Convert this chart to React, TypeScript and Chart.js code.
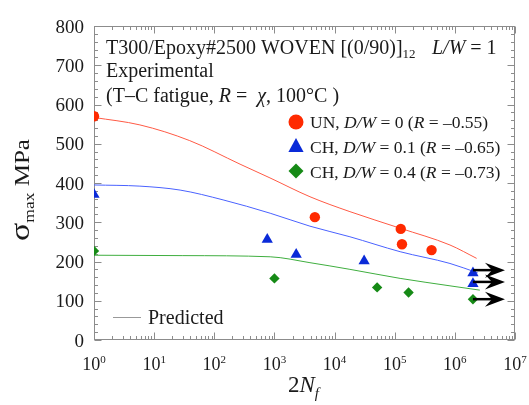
import React, { useEffect, useRef } from 'react';
import { Chart, registerables } from 'chart.js';
Chart.register(...registerables);

const SERIF = '"Liberation Serif", "Times New Roman", serif';

// Experimental data: 2N_f and sigma_max (MPa)
const unN = [1, 4700, 126000, 132000, 410000];
const unS = [570, 313, 283, 244, 229];
const ch1N = [1, 760, 2300, 31000, 2000000, 2000000];
const ch1S = [371, 256, 218, 201, 171, 143];
const ch4N = [1, 1000, 51000, 170000, 2000000];
const ch4S = [227, 157, 134, 121, 104];
// Run-outs (arrows)
const runN = [2000000, 2000000, 2000000];
const runS = [178, 148, 104];
// Predicted curves
const unPredN = [1, 5.8, 39, 268, 843, 3900, 18000, 122000, 830000, 2300000];
const unPredS = [567, 548, 508, 448, 413, 365, 327, 285, 242, 208];
const ch1PredN = [1, 5.8, 27, 140, 850, 3900, 18000, 123000, 830000, 2400000];
const ch1PredS = [395, 392, 382, 357, 323, 290, 263, 225, 195, 171];
const ch4PredN = [1, 30, 850, 3900, 18000, 123000, 830000, 2600000];
const ch4PredS = [216, 215, 212, 197, 180, 157, 138, 127];

// Axis ticks
const yTickValues = [0, 100, 200, 300, 400, 500, 600, 700, 800];
const yMinorValues = Array.from({ length: 41 }, (_, i) => i * 20);
const xTickExps = [0, 1, 2, 3, 4, 5, 6, 7];

const RED = '#ff2a00';
const BLUE = '#0a2ad8';
const GREEN = '#168a16';
const RED_L = '#ff5a45';
const BLUE_L = '#4a62ff';
const GREEN_L = '#3fae3f';
const TEXT = '#1a1a1a';
const AXIS = '#8c8c8c';

const zip = (xs: number[], ys: number[]) => xs.map((x, i) => ({ x, y: ys[i] }));

type Part = { t: string; italic?: boolean; size?: number; dy?: number };
function drawRich(ctx: CanvasRenderingContext2D, x: number, y: number, parts: Part[], base: number) {
  let cx = x;
  for (const p of parts) {
    const size = p.size ?? base;
    ctx.font = `${p.italic ? 'italic ' : ''}${size}px ${SERIF}`;
    ctx.fillText(p.t, cx, y + (p.dy ?? 0));
    cx += ctx.measureText(p.t).width;
  }
  return cx;
}
function richWidth(ctx: CanvasRenderingContext2D, parts: Part[], base: number) {
  let w = 0;
  for (const p of parts) {
    const size = p.size ?? base;
    ctx.font = `${p.italic ? 'italic ' : ''}${size}px ${SERIF}`;
    w += ctx.measureText(p.t).width;
  }
  return w;
}

function marker(ctx: CanvasRenderingContext2D, style: string, x: number, y: number, r: number, color: string) {
  ctx.fillStyle = color;
  ctx.beginPath();
  if (style === 'circle') {
    ctx.arc(x, y, r, 0, Math.PI * 2);
  } else if (style === 'triangle') {
    ctx.moveTo(x, y - r);
    ctx.lineTo(x + r * 0.95, y + r * 0.75);
    ctx.lineTo(x - r * 0.95, y + r * 0.75);
    ctx.closePath();
  } else {
    ctx.moveTo(x, y - r);
    ctx.lineTo(x + r, y);
    ctx.lineTo(x, y + r);
    ctx.lineTo(x - r, y);
    ctx.closePath();
  }
  ctx.fill();
}

const decor = {
  id: 'decor',
  beforeDatasetsDraw(chart: any) {
    const { ctx, chartArea: a, scales } = chart;
    const xs = scales.x, ys = scales.y;
    ctx.save();
    ctx.strokeStyle = AXIS;
    ctx.lineWidth = 1;
    const L = Math.round(a.left) + 0.5, R = Math.round(a.right) - 0.5;
    const T = Math.round(a.top) + 0.5, B = Math.round(a.bottom) - 0.5;
    ctx.strokeRect(L, T, R - L, B - T);
    ctx.beginPath();
    for (const v of yMinorValues) {
      const py = Math.round(ys.getPixelForValue(v)) + 0.5;
      const len = v % 100 === 0 ? 7 : 3.5;
      ctx.moveTo(L, py); ctx.lineTo(L + len, py);
      ctx.moveTo(R, py); ctx.lineTo(R - len, py);
    }
    for (const e of xTickExps) {
      for (let k = 1; k <= 9; k++) {
        if (e === 7 && k > 1) break;
        const v = k * Math.pow(10, e);
        const px = Math.round(xs.getPixelForValue(v)) + 0.5;
        const len = k === 1 ? 7 : 3.5;
        ctx.moveTo(px, B); ctx.lineTo(px, B - len);
        ctx.moveTo(px, T); ctx.lineTo(px, T + len);
      }
    }
    ctx.stroke();

    ctx.fillStyle = TEXT;
    ctx.textBaseline = 'alphabetic';
    ctx.font = `19px ${SERIF}`;
    ctx.textAlign = 'right';
    for (const v of yTickValues) {
      ctx.fillText(String(v), a.left - 10, ys.getPixelForValue(v) + 6.5);
    }
    ctx.textAlign = 'left';
    for (const e of xTickExps) {
      const px = xs.getPixelForValue(Math.pow(10, e));
      const parts: Part[] = [{ t: '10', size: 18 }, { t: String(e), size: 11, dy: -7 }];
      const w = richWidth(ctx, parts, 18);
      drawRich(ctx, px - w / 2, a.bottom + 30, parts, 18);
    }
    ctx.restore();
  },
  afterDatasetsDraw(chart: any) {
    const { ctx, scales } = chart;
    const xs = scales.x, ys = scales.y;
    ctx.save();
    ctx.fillStyle = '#000';
    ctx.strokeStyle = '#000';
    for (let i = 0; i < runN.length; i++) {
      const px = xs.getPixelForValue(runN[i]);
      const py = ys.getPixelForValue(runS[i]);
      ctx.lineWidth = 2.5;
      ctx.beginPath();
      ctx.moveTo(px, py); ctx.lineTo(px + 22, py);
      ctx.stroke();
      ctx.beginPath();
      ctx.moveTo(px + 32, py);
      ctx.lineTo(px + 12, py - 7.5);
      ctx.lineTo(px + 19, py);
      ctx.lineTo(px + 12, py + 7.5);
      ctx.closePath();
      ctx.fill();
    }
    ctx.restore();
  },
  afterDraw(chart: any) {
    const { ctx } = chart;
    ctx.save();
    ctx.fillStyle = TEXT;
    ctx.textAlign = 'left';
    ctx.textBaseline = 'alphabetic';
    drawRich(ctx, 106, 54, [
      { t: 'T300/Epoxy#2500 WOVEN [(0/90)]' },
      { t: '12', size: 13, dy: 4 },
    ], 20);
    drawRich(ctx, 432, 54, [{ t: 'L/W', italic: true }, { t: ' = 1' }], 20);
    drawRich(ctx, 106, 77, [{ t: 'Experimental' }], 20);
    drawRich(ctx, 106, 102, [
      { t: '(T\u2013C fatigue, ' },
      { t: 'R', italic: true },
      { t: ' =  ' },
      { t: '\u03C7', italic: true },
      { t: ', 100\u00B0C )' },
    ], 20);

    const LX = 296, TX = 310, FS = 17.5;
    marker(ctx, 'circle', LX, 122, 7.5, RED);
    marker(ctx, 'triangle', LX, 146, 8, BLUE);
    marker(ctx, 'diamond', LX, 171, 7.5, GREEN);
    ctx.fillStyle = TEXT;
    drawRich(ctx, TX, 128, [
      { t: 'UN, ' }, { t: 'D/W', italic: true }, { t: ' = 0 (' }, { t: 'R', italic: true }, { t: ' = \u20130.55)' },
    ], FS);
    drawRich(ctx, TX, 153, [
      { t: 'CH, ' }, { t: 'D/W', italic: true }, { t: ' = 0.1 (' }, { t: 'R', italic: true }, { t: ' = \u20130.65)' },
    ], FS);
    drawRich(ctx, TX, 178, [
      { t: 'CH, ' }, { t: 'D/W', italic: true }, { t: ' = 0.4 (' }, { t: 'R', italic: true }, { t: ' = \u20130.73)' },
    ], FS);

    ctx.strokeStyle = '#999';
    ctx.lineWidth = 1;
    ctx.beginPath();
    ctx.moveTo(113, 317.5); ctx.lineTo(141, 317.5);
    ctx.stroke();
    drawRich(ctx, 148, 324, [{ t: 'Predicted' }], 20);

    const xt: Part[] = [{ t: '2' }, { t: 'N', italic: true }, { t: 'f', italic: true, size: 15, dy: 6 }];
    drawRich(ctx, 288, 392, xt, 23);

    ctx.translate(29, 190);
    ctx.rotate(-Math.PI / 2);
    ctx.scale(1.25, 1);
    const yt: Part[] = [{ t: '\u03C3', size: 27 }, { t: 'max', size: 14, dy: 5 }, { t: ' MPa', size: 20 }];
    const w = richWidth(ctx, yt, 20);
    drawRich(ctx, -w / 2, 0, yt, 20);
    ctx.restore();
  },
};

export default function App() {
  const ref = useRef<HTMLCanvasElement>(null);
  useEffect(() => {
    if (!ref.current) return;
    const lineDs = (label: string, xs: number[], ys: number[], color: string) => ({
      type: 'line' as const,
      label,
      data: zip(xs, ys),
      borderColor: color,
      borderWidth: 1,
      pointRadius: 0,
      fill: false,
      cubicInterpolationMode: 'monotone' as const,
      showLine: true,
    });
    const ptDs = (label: string, xs: number[], ys: number[], color: string, style: string, r: number) => ({
      type: 'scatter' as const,
      label,
      data: zip(xs, ys),
      backgroundColor: color,
      borderColor: color,
      borderWidth: 0,
      pointStyle: style,
      pointRadius: r,
      showLine: false,
    });
    const chart = new Chart(ref.current, {
      type: 'scatter',
      data: {
        datasets: [
          ptDs('UN, D/W = 0', unN, unS, RED, 'circle', 5.2),
          ptDs('CH, D/W = 0.1', ch1N, ch1S, BLUE, 'triangle', 6.5),
          ptDs('CH, D/W = 0.4', ch4N, ch4S, GREEN, 'rectRot', 5.2),
          lineDs('Pred UN', unPredN, unPredS, RED_L),
          lineDs('Pred CH 0.1', ch1PredN, ch1PredS, BLUE_L),
          lineDs('Pred CH 0.4', ch4PredN, ch4PredS, GREEN_L),
        ] as any,
      },
      options: {
        responsive: false,
        animation: false,
        layout: { padding: { left: 86, top: 26, right: 14, bottom: 57 } },
        plugins: { legend: { display: false }, tooltip: { enabled: false }, title: { display: false } },
        scales: {
          x: {
            type: 'logarithmic',
            min: 1,
            max: 1e7,
            ticks: { display: false },
            grid: { display: false },
            border: { display: false },
          },
          y: {
            type: 'linear',
            min: 0,
            max: 800,
            ticks: { display: false },
            grid: { display: false },
            border: { display: false },
          },
        },
      },
      plugins: [decor],
    });
    return () => chart.destroy();
  }, []);
  return (
    <div style={{ position: 'fixed', left: 0, top: 0, width: 529, height: 405, background: '#fff' }}>
      <canvas ref={ref} width={529} height={405} />
    </div>
  );
}
